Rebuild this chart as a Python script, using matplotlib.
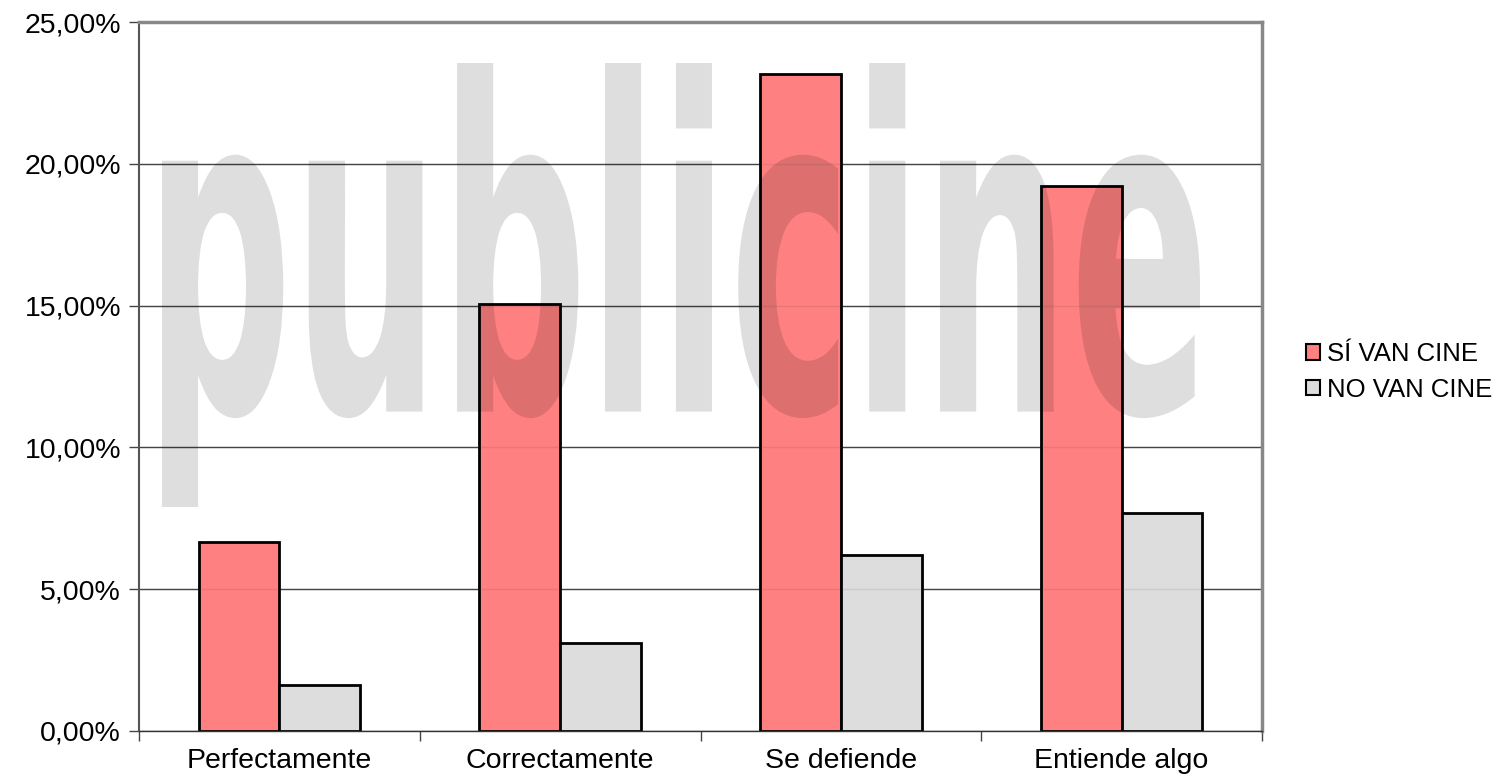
import matplotlib
matplotlib.use("Agg")
import matplotlib.pyplot as plt
import numpy as np
from matplotlib.patches import Patch, PathPatch
from matplotlib.textpath import TextPath
from matplotlib.font_manager import FontProperties
from matplotlib.transforms import Affine2D, IdentityTransform
from matplotlib.ticker import FuncFormatter, MultipleLocator

plt.rcParams['font.family'] = ['Liberation Sans', 'DejaVu Sans']

# data (percent)
categories = ["Perfectamente", "Correctamente", "Se defiende", "Entiende algo"]
si_van_cine = [6.65, 15.05, 23.15, 19.2]
no_van_cine = [1.62, 3.12, 6.22, 7.7]
series_names = ["SÍ VAN CINE", "NO VAN CINE"]

red = "#FF8080"
grey = "#DDDDDD"

fig = plt.figure(figsize=(14.99, 7.83), dpi=100)
ax = fig.add_axes([139/1499, 52/783, 1123/1499, 709/783])

x = np.arange(len(categories))
w = 0.2875
ax.bar(x - w/2, si_van_cine, w, color=red, edgecolor="black", linewidth=2, zorder=2)
ax.bar(x + w/2, no_van_cine, w, color=grey, edgecolor="black", linewidth=2, zorder=2)

ax.set_xlim(-0.5, len(categories) - 0.5)
ax.set_ylim(0, 25)
ax.yaxis.set_major_locator(MultipleLocator(5))
ax.yaxis.set_major_formatter(FuncFormatter(lambda v, p: f"{v:.2f}".replace(".", ",") + "%"))
ax.grid(axis="y", color="#444444", linewidth=1)
ax.set_axisbelow(True)

# faint gridlines showing through the bars
for yv in [5, 10, 15, 20]:
    ax.axhline(yv, color="#444444", linewidth=1, alpha=0.12, zorder=2.5)

# ticks between categories, labels in the middle
ax.set_xticks(np.arange(len(categories) + 1) - 0.5)
ax.set_xticklabels([])
ax.set_xticks(x, minor=True)
ax.set_xticklabels(categories, minor=True)
ax.tick_params(axis="x", which="major", length=7, width=1, color="#444444")
ax.tick_params(axis="x", which="minor", length=0, labelsize=20.5, pad=12)
ax.tick_params(axis="y", length=7, width=1, color="#444444", labelsize=20.5, pad=6)

for s in ["top", "right"]:
    ax.spines[s].set_color("#888888")
    ax.spines[s].set_linewidth(2.5)
ax.spines["left"].set_color("#555555")
ax.spines["left"].set_linewidth(1.5)
ax.spines["bottom"].set_color("#333333")
ax.spines["bottom"].set_linewidth(1)

# watermark "publicine" across the plot area
tp = TextPath((0, 0), "publicine", size=100,
              prop=FontProperties(family="DejaVu Sans", weight="bold"))
ext = tp.get_extents()
x0, x1 = 162, 1200
ytop, ybot = 783 - 63, 783 - 507
sx = (x1 - x0) / ext.width
sy = (ytop - ybot) / ext.height
tr = Affine2D().translate(-ext.x0, -ext.y0).scale(sx, sy).translate(x0, ybot)
wm = PathPatch(tr.transform_path(tp), facecolor="black", edgecolor="none",
               alpha=0.13, transform=IdentityTransform(), zorder=3)
ax.add_patch(wm)

handles = [Patch(facecolor=red, edgecolor="black", linewidth=1.5),
           Patch(facecolor=grey, edgecolor="black", linewidth=1.5)]
fig.legend(handles, series_names, loc="center left",
           bbox_to_anchor=(1306/1499, 1 - 372/783), frameon=False,
           fontsize=18.5, handlelength=0.55, handleheight=0.55,
           handletextpad=0.25, labelspacing=0.45, borderpad=0, borderaxespad=0)

fig.savefig("out.png", dpi=100)
